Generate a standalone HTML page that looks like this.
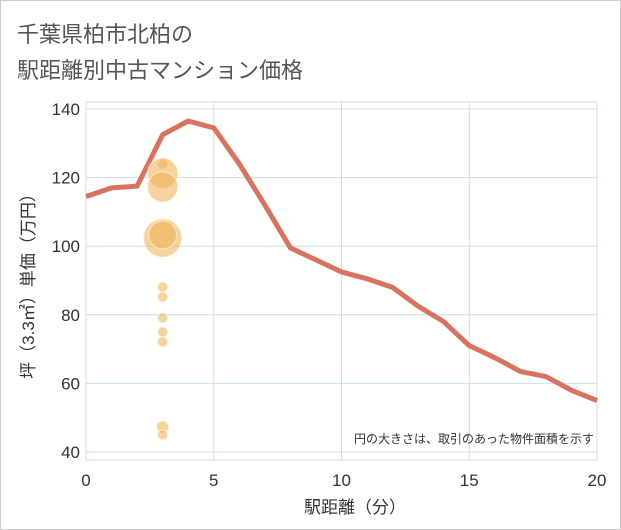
<!DOCTYPE html>
<html><head><meta charset="utf-8"><style>
body{margin:0;background:#fff;font-family:"Liberation Sans","Noto Sans CJK JP",sans-serif}
#wrap{position:relative;width:619px;height:528px;border:1px solid #ccc;background:#fff}
</style></head><body>
<div id="wrap">
<svg id="chart" width="621" height="530" style="position:absolute;left:-1px;top:-1px">
<text x="17" y="42" font-size="22" fill="#555">千葉県柏市北柏の</text>
<text x="17" y="78" font-size="22" fill="#555">駅距離別中古マンション価格</text>
<g id="grid"></g><g id="marks"></g><g id="axes"></g>
<text x="594" y="443" font-size="12" fill="#333" text-anchor="end">円の大きさは、取引のあった物件面積を示す</text>
<text x="355" y="513" font-size="17" fill="#333" text-anchor="middle">駅距離（分）</text>
<text transform="translate(34,282) rotate(-90)" font-size="17" fill="#333" text-anchor="middle">坪（3.3㎡）単価（万円）</text>
</svg></div>
<script>
const lineX=[0,1,2,3,4,5,6,7,8,9,10,11,12,13,14,15,16,17,18,19,20];
const lineY=[114.5,117,117.5,132.5,136.5,134.5,124,112,99.5,96,92.5,90.5,88,82.5,78,71,67.5,63.5,62,58,55];
const bubX=[3,3,3,3,3,3,3,3,3,3,3,3];
const bubY=[124,121.3,117.3,102.4,103.3,88.1,85.2,79.1,75,72.1,47.3,45];
const bubR=[5,15,15,19,14,5,5,5,5,5,6,5];
const xTicks=[0,5,10,15,20];
const yTicks=[40,60,80,100,120,140];
const NS="http://www.w3.org/2000/svg";
const X0=86,X1=597,Y0=452,Y1=109;
const sx=v=>X0+(v-0)/20*(X1-X0);
const sy=v=>Y0-(v-40)/100*(Y0-Y1);
function mk(tag,attrs,parent){const e=document.createElementNS(NS,tag);for(const k in attrs)e.setAttribute(k,attrs[k]);document.getElementById(parent).appendChild(e);return e;}
for(const t of xTicks){
 const l=mk('line',{x1:sx(t),x2:sx(t),y1:102,y2:460,stroke:'#d0dde8'},'grid');
 
 
 const tx=mk('text',{x:sx(t),y:486,'font-size':17,fill:'#333','text-anchor':'middle'},'axes');tx.textContent=t;
 
 
}
for(const t of yTicks){
 const l=mk('line',{x1:86,x2:597,y1:sy(t),y2:sy(t),stroke:'#d0dde8'},'grid');
 
 
 const tx=mk('text',{x:80,y:sy(t)+6,'font-size':17,fill:'#333','text-anchor':'end'},'axes');tx.textContent=t;
 
 
}
const fr=mk('rect',{x:86,y:102,width:511,height:358,fill:'none',stroke:'#d0dde8'},'grid');


const pts=lineX.map((x,i)=>sx(x)+','+sy(lineY[i])).join(' ');
const pl=mk('polyline',{points:pts,fill:'none',stroke:'#d9735f','stroke-width':5,'stroke-linejoin':'round'},'marks');


for(let i=0;i<bubX.length;i++){
 const c=mk('circle',{cx:sx(bubX[i]),cy:sy(bubY[i]),r:bubR[i],fill:'rgba(240,180,90,0.6)',stroke:'rgba(255,240,210,0.8)','stroke-width':1},'marks');
 
 
}
</script></body></html>
